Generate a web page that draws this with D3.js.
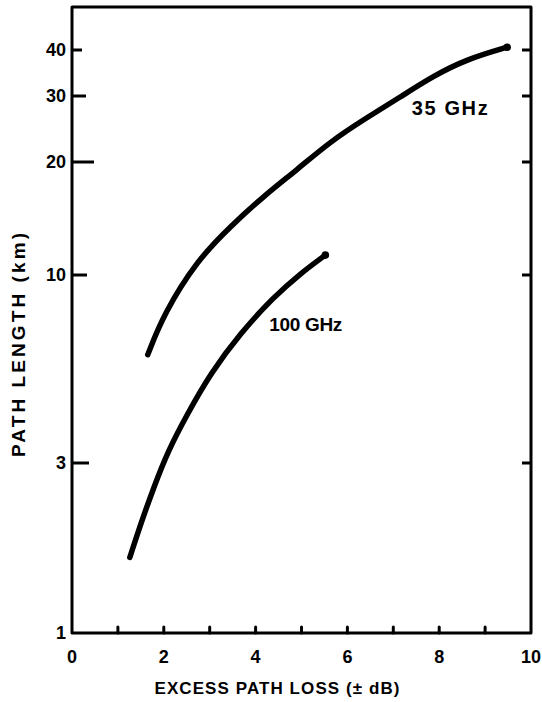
<!DOCTYPE html>
<html>
<head>
<meta charset="utf-8">
<script src="https://cdn.jsdelivr.net/npm/d3@7"></script>
<style>
  html, body { margin: 0; padding: 0; background: #fff; }
  text { font-family: "Liberation Sans", Arial, sans-serif; font-weight: bold; fill: #000; }
</style>
</head>
<body>
<svg id="chart" width="542" height="702"></svg>
<script>
// ---- data ----
const xTicks = [0, 2, 4, 6, 8, 10];
const xMinorTicks = [1, 2, 3, 4, 5, 6, 7, 8, 9];
const yTicks = [1, 3, 10, 20, 30, 40];
const yTickLabels = ["1", "3", "10", "20", "30", "40"];

const ghz35X = [1.65, 2.0, 2.74, 3.46, 4.17, 4.91, 5.63, 6.43, 7.15, 7.87, 8.61, 9.48];
const ghz35Y = [6.0, 7.8, 11.0, 13.5, 16.2, 19.1, 22.7, 26.3, 29.8, 34.0, 37.8, 40.7];

const ghz100X = [1.26, 1.5, 1.78, 2.09, 2.52, 3.02, 3.67, 4.39, 4.98, 5.52];
const ghz100Y = [1.63, 2.03, 2.56, 3.24, 4.12, 5.33, 6.89, 8.68, 10.1, 11.3];

const seriesLabels = ["35 GHz", "100 GHz"];
const xTitle = "EXCESS PATH LOSS  (± dB)";
const yTitle = "PATH LENGTH  (km)";

// ---- layout ----
const svg = d3.select("#chart");
const plotTop = 7;

// x: linear 0..10 ; y: logarithmic (piecewise as drawn on the original graph paper)
const x = d3.scaleLinear().domain([0, 10]).range([72, 531]);
const y = d3.scaleLog().domain([1, 3, 10, 20, 30, 40]).range([633, 463, 275, 162, 96, 50]);

const left = x(0), right = x(10), bottom = y(1);

// frame
svg.append("path")
  .attr("d", `M${left},${plotTop} L${left},${bottom} L${right},${bottom} L${right},${plotTop} Z`)
  .attr("fill", "none").attr("stroke", "#000").attr("stroke-width", 3)
  .attr("stroke-linejoin", "round");

// y ticks (inward on left and right borders)
const yTickLen = [0, 17, 15, 22, 14, 10];
svg.append("g").selectAll("line.yl").data(yTicks.slice(1)).join("line")
  .attr("x1", left).attr("x2", (d, i) => left + yTickLen[i + 1])
  .attr("y1", d => y(d)).attr("y2", d => y(d))
  .attr("stroke", "#000").attr("stroke-width", 3);
svg.append("g").selectAll("line.yr").data(yTicks.slice(1)).join("line")
  .attr("x1", right).attr("x2", right - 9)
  .attr("y1", d => y(d)).attr("y2", d => y(d))
  .attr("stroke", "#000").attr("stroke-width", 3);

// x minor ticks (inward on the bottom)
svg.append("g").selectAll("line").data(xMinorTicks).join("line")
  .attr("x1", d => x(d)).attr("x2", d => x(d))
  .attr("y1", bottom).attr("y2", bottom - 6)
  .attr("stroke", "#000").attr("stroke-width", 3).attr("stroke-linecap", "round");

// y tick labels
svg.append("g").selectAll("text").data(yTicks).join("text")
  .attr("x", left - 6).attr("y", d => y(d))
  .attr("dy", "0.35em").attr("text-anchor", "end")
  .style("font-size", "18px")
  .text((d, i) => yTickLabels[i]);

// x tick labels
svg.append("g").selectAll("text").data(xTicks).join("text")
  .attr("x", d => x(d)).attr("y", 663)
  .attr("text-anchor", "middle")
  .style("font-size", "18px")
  .text(d => d);

// axis titles
svg.append("text")
  .attr("x", 277).attr("y", 694).attr("text-anchor", "middle")
  .attr("textLength", 245).attr("lengthAdjust", "spacing")
  .style("font-size", "17px")
  .text(xTitle);

svg.append("text")
  .attr("transform", "translate(25,345) rotate(-90)")
  .attr("text-anchor", "middle")
  .attr("textLength", 224).attr("lengthAdjust", "spacing")
  .style("font-size", "19px")
  .text(yTitle);

// curves
const line = d3.line().x(d => x(d[0])).y(d => y(d[1])).curve(d3.curveBasis);
const curves = [
  d3.zip(ghz35X, ghz35Y),
  d3.zip(ghz100X, ghz100Y)
];
svg.append("g").selectAll("path").data(curves).join("path")
  .attr("d", line)
  .attr("fill", "none").attr("stroke", "#000")
  .attr("stroke-width", 5.5).attr("stroke-linecap", "round");

// end blobs
svg.append("g").selectAll("circle").data(curves.map(c => c[c.length - 1])).join("circle")
  .attr("cx", d => x(d[0])).attr("cy", d => y(d[1])).attr("r", 3.8).attr("fill", "#000");

// curve labels
svg.append("text").attr("x", x(7.4)).attr("y", y(26.7))
  .attr("textLength", 76).attr("lengthAdjust", "spacing")
  .style("font-size", "20px").text(seriesLabels[0]);
svg.append("text").attr("x", x(4.3)).attr("y", y(7.0))
  .attr("textLength", 73).attr("lengthAdjust", "spacing")
  .style("font-size", "19px").text(seriesLabels[1]);
</script>
</body>
</html>
